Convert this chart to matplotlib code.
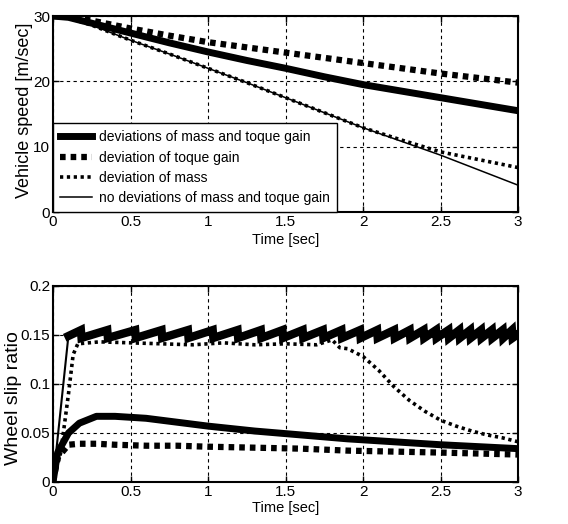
import numpy as np
import matplotlib
matplotlib.use('Agg')
from matplotlib import pyplot as plt

plt.rcParams['font.family'] = ['Liberation Sans', 'DejaVu Sans']

# top panel: vehicle speed [m/sec]
t_v = [0, 0.1, 0.25, 0.5, 0.75, 1.0, 1.25, 1.5, 1.75, 2.0, 2.25, 2.5, 2.75, 3.0]
v_both = [30, 29.8, 28.9, 27.4, 25.9, 24.5, 23.2, 22.0, 20.7, 19.5, 18.5, 17.5, 16.5, 15.5]
v_gain = [30, 29.9, 29.3, 28.1, 27.0, 26.0, 25.2, 24.4, 23.6, 22.8, 22.0, 21.2, 20.5, 19.8]
v_mass = [30, 29.7, 28.6, 26.3, 24.2, 22.0, 19.8, 17.5, 15.2, 12.9, 11.0, 9.2, 8.0, 6.8]
v_none = [30, 29.7, 28.6, 26.3, 24.2, 22.0, 19.8, 17.5, 15.2, 12.9, 10.8, 8.7, 6.4, 4.1]

# bottom panel: wheel slip ratio
t_s = [0, 0.03, 0.1, 0.17, 0.28, 0.4, 0.6, 0.8, 1.0, 1.3, 1.6, 1.9, 2.2, 2.5, 2.75, 3.0]
s_both = [0, 0.03, 0.05, 0.06, 0.067, 0.067, 0.065, 0.061, 0.057, 0.052, 0.048, 0.044, 0.041, 0.038, 0.036, 0.034]
s_gain = [0, 0.025, 0.038, 0.039, 0.039, 0.038, 0.037, 0.037, 0.036, 0.035, 0.034, 0.032, 0.031, 0.030, 0.029, 0.028]

t_sm = [0, 0.05, 0.10, 0.13, 0.16, 0.3, 0.5, 0.7, 0.9, 1.1, 1.3, 1.5, 1.7, 1.8, 1.85,
        1.9, 2.0, 2.1, 2.2, 2.3, 2.4, 2.5, 2.6, 2.7, 2.8, 2.9, 3.0]
s_mass = [0, 0.03, 0.09, 0.13, 0.141, 0.143, 0.142, 0.141, 0.140, 0.142, 0.140, 0.141, 0.140,
          0.145, 0.137, 0.136, 0.128, 0.114, 0.097, 0.083, 0.072, 0.063, 0.057, 0.052, 0.048,
          0.045, 0.041]

# nominal case: rise, then sawtooth (times where each tooth drops)
rise_t = [0, 0.1]
rise_v = [0, 0.15]
tooth_t = [0.18, 0.35, 0.53, 0.70, 0.87, 1.03, 1.19, 1.34, 1.48, 1.61, 1.74, 1.86, 1.98,
           2.09, 2.20, 2.30, 2.39, 2.47, 2.55, 2.62, 2.69, 2.76, 2.83, 2.90, 2.96]
tooth_hi = 0.155
tooth_lo = 0.147

labels = ['deviations of mass and toque gain', 'deviation of toque gain',
          'deviation of mass', 'no deviations of mass and toque gain']

sn_t = [0.1]
sn_v = [0.149]
for tk in tooth_t:
    sn_t += [tk, tk + 0.004]
    sn_v += [tooth_hi, tooth_lo]
sn_t.append(3.0)
sn_v.append(0.151)

fig = plt.figure(figsize=(5.68, 5.24), dpi=100)
ax1 = fig.add_axes([0.0933, 0.5954, 0.819, 0.374])
ax2 = fig.add_axes([0.0933, 0.0802, 0.819, 0.374])

sq = dict(color='k', lw=4.5, linestyle=(0, (0.9, 0.8)), dash_capstyle='butt')
dt = dict(color='k', lw=2.6, linestyle=(0, (0.9, 1.0)), dash_capstyle='butt')

ax1.plot(t_v, v_both, color='k', lw=5, label=labels[0])
ax1.plot(t_v, v_gain, label=labels[1], **sq)
ax1.plot(t_v, v_mass, label=labels[2], **dt)
ax1.plot(t_v, v_none, color='k', lw=1.1, label=labels[3])

ax2.plot(t_s, s_both, color='k', lw=5)
ax2.plot(t_s, s_gain, **sq)
ax2.plot(t_sm, s_mass, **dt)
ax2.plot(rise_t, rise_v, color='k', lw=1.5)
ax2.plot(sn_t, sn_v, color='k', lw=6, solid_joinstyle='miter')

for ax in (ax1, ax2):
    ax.set_xlim(0, 3)
    ax.set_xticks([0, 0.5, 1, 1.5, 2, 2.5, 3])
    ax.set_xticklabels(['0', '0.5', '1', '1.5', '2', '2.5', '3'])
    ax.grid(True, color='k', linestyle=(0, (3, 3)), lw=0.8)
    ax.set_axisbelow(True)
    ax.tick_params(direction='in', length=4, width=1, top=True, right=True,
                   labelsize=11, pad=2)
    for s in ax.spines.values():
        s.set_linewidth(1.5)

ax1.set_ylim(0, 30)
ax1.set_yticks([0, 10, 20, 30])
ax1.set_ylabel('Vehicle speed [m/sec]', fontsize=13)
ax1.yaxis.set_label_coords(-0.043, 0.52)
ax1.set_xlabel('Time [sec]', fontsize=10.5)
ax1.xaxis.set_label_coords(0.5, -0.108)

ax2.set_ylim(0, 0.2)
ax2.set_yticks([0, 0.05, 0.1, 0.15, 0.2])
ax2.set_yticklabels(['0', '0.05', '0.1', '0.15', '0.2'])
ax2.set_ylabel('Wheel slip ratio', fontsize=14)
ax2.yaxis.set_label_coords(-0.066, 0.43)
ax2.set_xlabel('Time [sec]', fontsize=10.5)
ax2.xaxis.set_label_coords(0.5, -0.097)

leg = ax1.legend(loc='lower left', fontsize=10, borderaxespad=0, fancybox=False,
                 framealpha=1, edgecolor='k', handlelength=2.3, handletextpad=0.5,
                 labelspacing=0.45, borderpad=0.5)
leg.get_frame().set_linewidth(1)

fig.savefig('out.png', dpi=100)
